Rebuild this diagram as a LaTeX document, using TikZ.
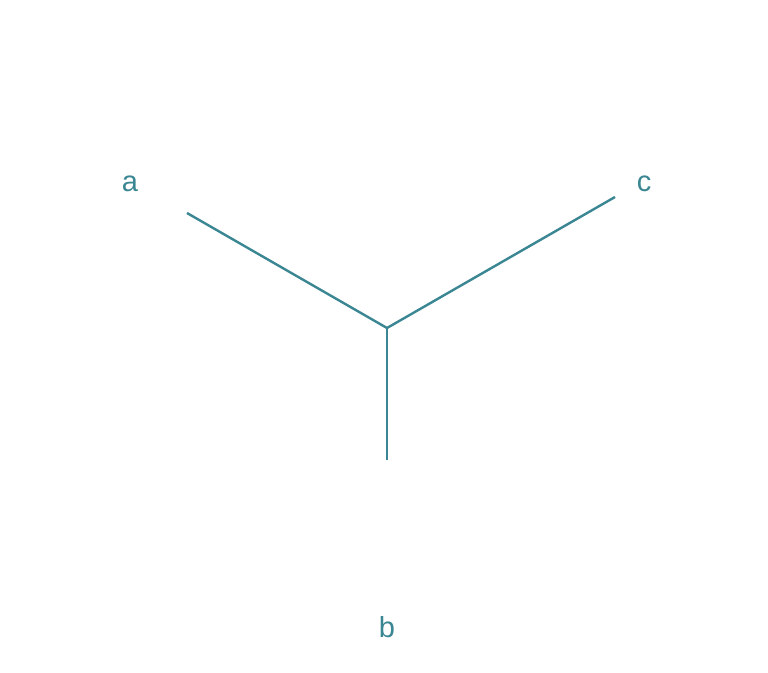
\documentclass[tikz,border=0pt]{standalone}
\usepackage{fontspec}
\setmainfont{Liberation Sans}
\definecolor{teal1}{RGB}{58,134,146}
\begin{document}
\begin{tikzpicture}[x=1pt,y=-1pt,
  lbl/.style={inner sep=0pt,text=teal1,font=\fontsize{29}{34}\selectfont},
  edge/.style={draw=teal1,line width=2.4pt}]
\useasboundingbox (0,0) rectangle (768,672);
\coordinate (m) at (387,328);
\coordinate (ea) at (187,213);
\coordinate (ec) at (615,197);
\coordinate (eb) at (387,460);
\node[lbl] (a) at (130,184) {a};
\node[lbl] (c) at (644,184) {c};
\node[lbl] (b) at (387,627) {b};
\draw[edge] (ea) -- (m) -- (ec);
\draw[edge] (m) -- (eb);
\end{tikzpicture}
\end{document}
